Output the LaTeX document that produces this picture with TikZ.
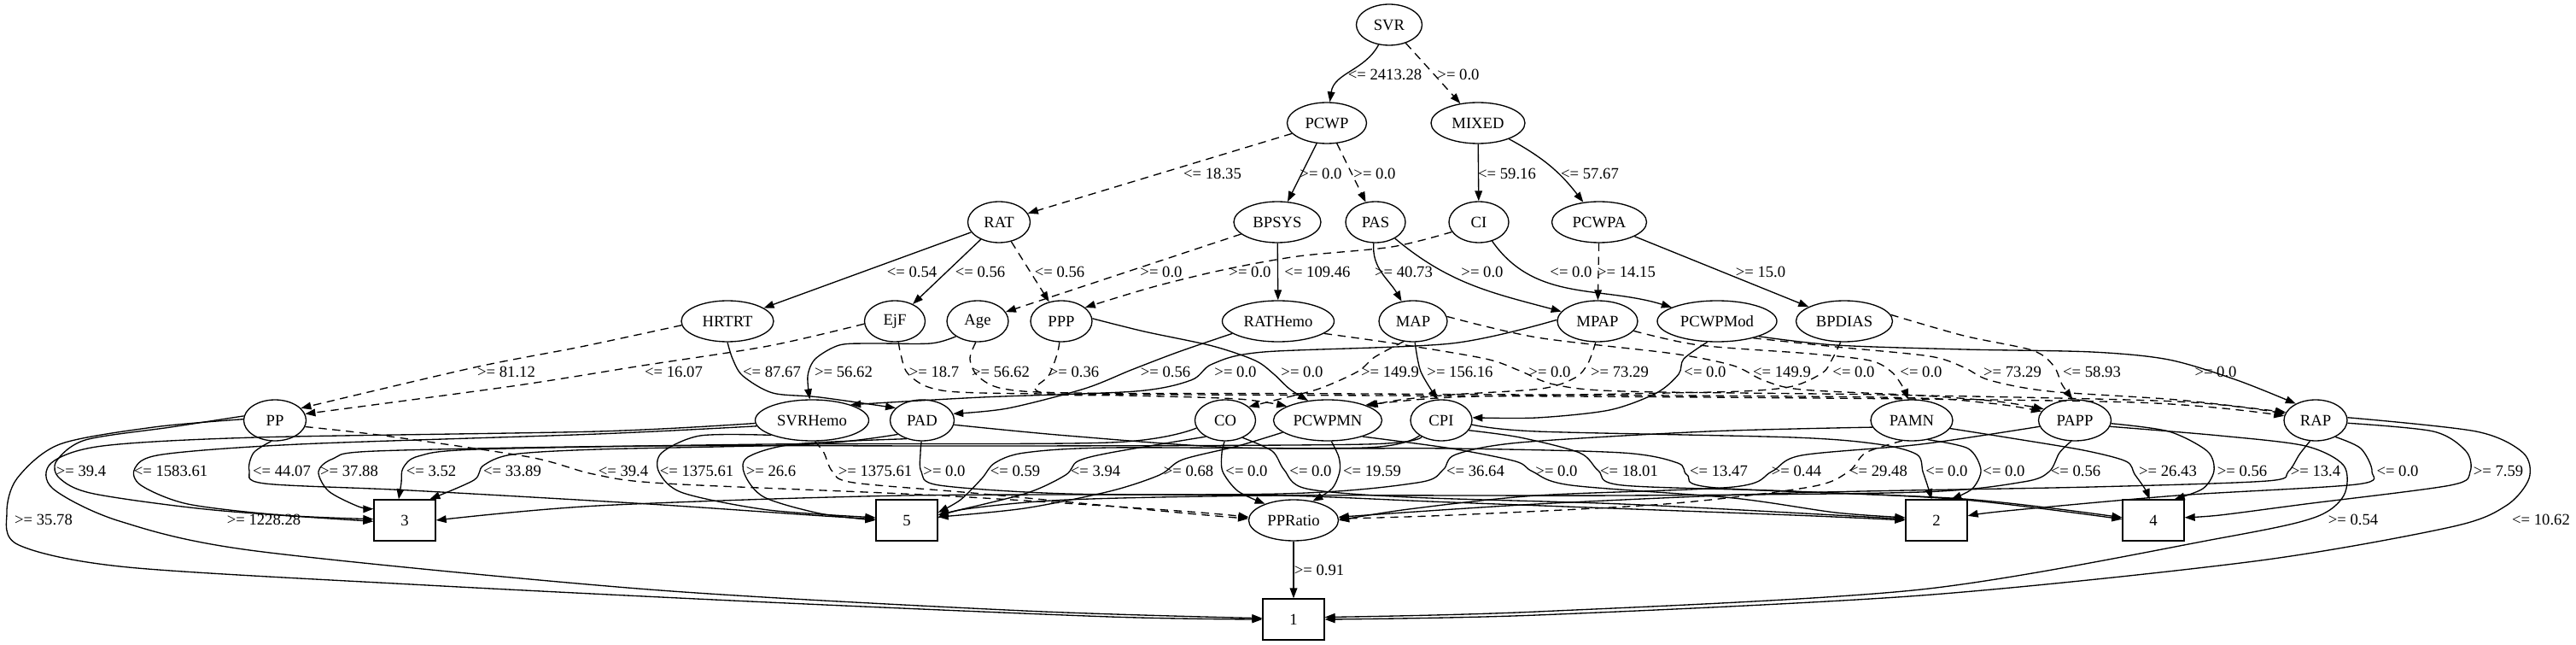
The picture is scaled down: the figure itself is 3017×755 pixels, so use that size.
\documentclass[tikz,border=0pt]{standalone}
\usepackage{fontspec}
\setmainfont{Liberation Serif}
\usetikzlibrary{shapes.geometric,arrows.meta}
\begin{document}
\begin{tikzpicture}[x=0.75pt,y=-0.75pt,
  every node/.style={font=\fontsize{14}{16}\selectfont},
  ell/.style={draw, ellipse, line width=1pt, minimum height=36pt, inner sep=0pt, minimum width=#1*0.75pt},
  leaf/.style={draw, rectangle, line width=1pt, minimum width=54pt, minimum height=36pt, inner sep=0pt},
  e/.style={line width=1pt, -{Triangle[length=9pt,width=6.5pt]}},
  d/.style={e, dash pattern=on 7pt off 5pt},
  lab/.style={inner sep=0pt}]
\useasboundingbox (0,0) rectangle (3017,755);
% ---------- nodes ----------
\node[ell=77] (SVR) at (1627,29) {SVR};
\node[ell=93] (PCWP) at (1554,144) {PCWP};
\node[ell=110] (MIXED) at (1731,144) {MIXED};
\node[ell=73] (RAT) at (1170,260) {RAT};
\node[ell=102] (BPSYS) at (1496,260) {BPSYS};
\node[ell=70] (PAS) at (1611,260) {PAS};
\node[ell=70] (CI) at (1732,260) {CI};
\node[ell=111] (PCWPA) at (1873,260) {PCWPA};
\node[ell=108] (HRTRT) at (852,376) {HRTRT};
\node[ell=71] (EjF) at (1048,376) {EjF};
\node[ell=72] (Age) at (1145,376) {Age};
\node[ell=72] (PPP) at (1243,376) {PPP};
\node[ell=131] (RATHemo) at (1497,376) {RATHemo};
\node[ell=80] (MAP) at (1655,376) {MAP};
\node[ell=94] (MPAP) at (1871,376) {MPAP};
\node[ell=140] (PCWPMod) at (2011,376) {PCWPMod};
\node[ell=113] (BPDIAS) at (2160,376) {BPDIAS};
\node[ell=73] (PP) at (322,492) {PP};
\node[ell=133] (SVRHemo) at (951,492) {SVRHemo};
\node[ell=75] (PAD) at (1080,492) {PAD};
\node[ell=71] (CO) at (1435,492) {CO};
\node[ell=127] (PCWPMN) at (1555,492) {PCWPMN};
\node[ell=72] (CPI) at (1688,492) {CPI};
\node[ell=96] (PAMN) at (2239,492) {PAMN};
\node[ell=85] (PAPP) at (2430,492) {PAPP};
\node[ell=74] (RAP) at (2712,492) {RAP};
\node[leaf] (b3) at (474,609) {3};
\node[leaf] (b5) at (1062,609) {5};
\node[ell=105] (PPRatio) at (1515,609) {PPRatio};
\node[leaf] (b2) at (2268,609) {2};
\node[leaf] (b4) at (2522,609) {4};
\node[leaf] (b1) at (1515,725) {1};
% ---------- layer 1-2 ----------
\draw[e] (SVR) to[out=-118,in=82] (PCWP);
\draw[d] (SVR) -- (MIXED);
\node[lab] (t1) at (1622,87) {<= 2413.28};
\node[lab] (t2) at (1708,87) {>= 0.0};
% ---------- layer 2-3 ----------
\draw[d] (PCWP) -- (RAT);
\draw[e] (PCWP) -- (BPSYS);
\draw[d] (PCWP) -- (PAS);
\draw[e] (MIXED) -- (CI);
\draw[e] (MIXED) to[bend left=12] (PCWPA);
\node[lab] (t3) at (1420,203) {<= 18.35};
\node[lab] (t4) at (1547,203) {>= 0.0};
\node[lab] (t5) at (1610,203) {>= 0.0};
\node[lab] (t6) at (1765,203) {<= 59.16};
\node[lab] (t7) at (1862,203) {<= 57.67};
% ---------- layer 3-4 ----------
\draw[e] (RAT) -- (HRTRT);
\draw[e] (RAT) -- (EjF);
\draw[d] (RAT) -- (PPP);
\draw[d] (BPSYS) -- (Age);
\draw[d] plot[smooth] coordinates {(CI.200) (1630,289) (1520,300) (1432,316) (1350,336) (PPP.30)};
\draw[e] (BPSYS) -- (RATHemo);
\draw[e] (PAS) to[out=-95,in=120] (MAP);
\draw[e] (PAS) to[out=-40,in=165] (MPAP);
\draw[e] (CI) to[out=-55,in=163] (PCWPMod);
\draw[d] (PCWPA) -- (MPAP);
\draw[e] (PCWPA) -- (BPDIAS);
\node[lab] (t8) at (1068,318) {<= 0.54};
\node[lab] (t9) at (1148,318) {<= 0.56};
\node[lab] (t10) at (1241,318) {<= 0.56};
\node[lab] (t11) at (1360,318) {>= 0.0};
\node[lab] (t12) at (1464,318) {>= 0.0};
\node[lab] (t13) at (1543,318) {<= 109.46};
\node[lab] (t14) at (1644,318) {>= 40.73};
\node[lab] (t15) at (1736,318) {>= 0.0};
\node[lab] (t16) at (1840,318) {<= 0.0};
\node[lab] (t17) at (1905,318) {>= 14.15};
\node[lab] (t18) at (2062,318) {>= 15.0};
% ---------- layer 4-5 ----------
\draw[d] plot[smooth] coordinates {(HRTRT.185) (680,406) (556,430) (PP.25)};
\draw[d] plot[smooth] coordinates {(EjF.185) (900,405) (752,428) (600,452) (PP.12)};
\draw[e] plot[smooth] coordinates {(HRTRT.-90) (858,420) (870,440) (905,460) (960,465) (PAD.155)};
\draw[e] plot[smooth] coordinates {(Age.215) (1090,402) (1020,402) (983,404) (955,420) (946,440) (SVRHemo.96)};
\draw[d] plot[smooth] coordinates {(EjF.-80) (1055,415) (1063,437) (1090,454) (1150,460) (1400,462) (2000,465) (2500,471) (RAP.172)};
\draw[d] plot[smooth] coordinates {(Age.-95) (1136,420) (1145,440) (1175,455) (1260,460) (1600,461) (2200,465) (2330,472) (PAPP.165)};
\draw[d] plot[smooth] coordinates {(PPP.-95) (1238,415) (1228,440) (1212,455) (1235,462) (1320,463) (1450,467) (PCWPMN.161)};
\draw[e] plot[smooth] coordinates {(RATHemo.-165) (1380,412) (1325,433) (1270,455) (1180,478) (PAD.12)};
\draw[e] plot[smooth] coordinates {(MPAP.178) (1700,402) (1480,412) (1420,426) (1395,445) (1330,458) (1150,465) (SVRHemo.22)};
\draw[e] plot[smooth] coordinates {(PPP.5) (1340,388) (1420,405) (1470,422) (1492,438) (1510,455) (PCWPMN.135)};
\draw[d] plot[smooth] coordinates {(MAP.-115) (1610,418) (1590,435) (1545,455) (1495,468) (CO.30)};
\draw[e] plot[smooth] coordinates {(MAP.-85) (1664,435) (CPI.100)};
\draw[d] plot[smooth] coordinates {(RATHemo.-15) (1640,403) (1740,420) (1780,434) (1820,450) (1900,458) (2200,462) (2550,470) (RAP.168)};
\draw[d] plot[smooth] coordinates {(MPAP.-95) (1860,425) (1845,442) (1805,455) (1700,462) (1640,468) (PCWPMN.20)};
\draw[e] plot[smooth] coordinates {(PCWPMod.-115) (1972,420) (1966,438) (1940,460) (1885,480) (1800,489) (CPI.5)};
\draw[d] plot[smooth] coordinates {(MAP.8) (1800,395) (1960,414) (2030,428) (2065,445) (2110,456) (2250,463) (2340,470) (PAPP.160)};
\draw[d] plot[smooth] coordinates {(BPDIAS.-100) (2146,420) (2135,436) (2100,452) (2040,458) (1900,461) (1700,465) (PCWPMN.22)};
\draw[d] plot[smooth] coordinates {(MPAP.-15) (1990,404) (2120,414) (2190,422) (2215,435) (2228,452) (PAMN.100)};
\draw[d] plot[smooth] coordinates {(PCWPMod.-25) (2150,406) (2260,417) (2300,430) (2330,445) (2400,458) (2550,468) (RAP.165)};
\draw[d] plot[smooth] coordinates {(BPDIAS.8) (2300,393) (2380,410) (2405,428) (2415,450) (PAPP.96)};
\draw[e] plot[smooth] coordinates {(PCWPMod.-20) (2150,404) (2300,409) (2450,412) (2540,421) (2620,445) (RAP.140)};
\node[lab] (t19) at (593,435) {>= 81.12};
\node[lab] (t20) at (789,435) {<= 16.07};
\node[lab] (t21) at (904,435) {<= 87.67};
\node[lab] (t22) at (988,435) {>= 56.62};
\node[lab] (t23) at (1094,435) {>= 18.7};
\node[lab] (t24) at (1172,435) {>= 56.62};
\node[lab] (t25) at (1258,435) {>= 0.36};
\node[lab] (t26) at (1365,435) {>= 0.56};
\node[lab] (t27) at (1447,435) {>= 0.0};
\node[lab] (t28) at (1525,435) {>= 0.0};
\node[lab] (t29) at (1628,435) {>= 149.9};
\node[lab] (t30) at (1710,435) {>= 156.16};
\node[lab] (t31) at (1815,435) {>= 0.0};
\node[lab] (t32) at (1897,435) {>= 73.29};
\node[lab] (t33) at (1997,435) {<= 0.0};
\node[lab] (t34) at (2087,435) {<= 149.9};
\node[lab] (t35) at (2171,435) {<= 0.0};
\node[lab] (t36) at (2250,435) {<= 0.0};
\node[lab] (t37) at (2357,435) {>= 73.29};
\node[lab] (t38) at (2450,435) {<= 58.93};
\node[lab] (t39) at (2595,435) {>= 0.0};
% ---------- layer 5-6 ----------
% PP
\draw[e] plot[smooth] coordinates {(PP.172) (200,500) (100,515) (66,540) (70,560) (110,578) (250,597) (b3.182)};
\draw[e] plot[smooth] coordinates {(PP.178) (180,500) (70,520) (20,560) (8,600) (22,638) (150,664) (500,685) (900,705) (1300,722) (b1.west)};
\draw[e] plot[smooth] coordinates {(PP.-100) (297,530) (292,551) (310,566) (480,574) (760,590) (950,603) (b5.178)};
\draw[d] plot[smooth] coordinates {(PP.-12) (450,510) (620,535) (695,555) (780,566) (1100,580) (1380,598) (PPRatio.176)};
% SVRHemo
\draw[e] plot[smooth] coordinates {(SVRHemo.186) (700,508) (350,520) (190,532) (158,548) (165,568) (220,590) (330,603) (b3.178)};
\draw[e] plot[smooth] coordinates {(SVRHemo.183) (700,505) (300,512) (120,522) (60,542) (62,572) (140,610) (300,645) (760,690) (1200,715) (b1.178)};
\draw[e] plot[smooth] coordinates {(SVRHemo.200) (820,510) (775,530) (772,553) (800,577) (900,597) (b5.175)};
\draw[d] plot[smooth] coordinates {(SVRHemo.-82) (965,530) (975,552) (1000,565) (1150,578) (1380,600) (PPRatio.178)};
% PAD
\draw[e] plot[smooth] coordinates {(PAD.-150) (950,520) (700,526) (600,532) (566,545) (555,562) (b3.40)};
\draw[e] plot[smooth] coordinates {(PAD.-130) (930,520) (876,535) (872,555) (895,582) (960,601) (b5.west)};
\draw[e] plot[smooth] coordinates {(PAD.-92) (1078,530) (1079,552) (1100,568) (1250,578) (1500,580) (1700,588) (2100,603) (b2.west)};
\draw[e] plot[smooth] coordinates {(PAD.-8) (1250,510) (1450,524) (1700,525) (1900,530) (1965,542) (1976,556) (2010,571) (2300,584) (b4.175)};
% CO
\draw[e] plot[smooth] coordinates {(CO.-165) (1300,518) (900,520) (560,526) (490,534) (472,548) (470,565) (b3.106)};
\draw[e] plot[smooth] coordinates {(CO.-140) (1300,530) (1262,540) (1248,556) (1200,578) (b5.10)};
\draw[e] plot[smooth] coordinates {(CO.-92) (1431,530) (1432,552) (1450,575) (PPRatio.150)};
\draw[e] plot[smooth] coordinates {(CO.-45) (1490,528) (1504,550) (1530,572) (1650,582) (1900,590) (2150,603) (b2.178)};
% CPI
\draw[e] plot[smooth] coordinates {(CPI.-140) (1600,520) (1200,522) (760,522) (440,528) (390,537) (373,552) (385,575) (420,593) (b3.160)};
\draw[e] plot[smooth] coordinates {(CPI.-145) (1600,524) (1300,524) (1200,530) (1165,542) (1150,560) (1125,585) (b5.14)};
\draw[e] plot[smooth] coordinates {(CPI.-20) (1780,512) (1850,530) (1872,551) (1900,568) (2100,575) (2300,585) (b4.178)};
\draw[e] plot[smooth] coordinates {(CPI.-8) (1800,505) (2100,512) (2200,520) (2245,532) (2252,552) (2258,570) (b2.103)};
% PCWPMN
\draw[e] plot[smooth] coordinates {(PCWPMN.-165) (1450,522) (1385,538) (1358,556) (1300,575) (1200,595) (b5.6)};
\draw[e] plot[smooth] coordinates {(PCWPMN.-80) (1568,535) (1569,552) (1560,572) (PPRatio.45)};
\draw[e] plot[smooth] coordinates {(PCWPMN.-25) (1700,525) (1775,540) (1795,552) (1840,568) (2030,583) (2150,600) (b2.175)};
% PAMN
\draw[e] plot[smooth] coordinates {(PAMN.190) (2000,505) (1780,518) (1705,532) (1690,550) (1660,565) (1500,578) (1060,580) (700,592) (b3.east)};
\draw[d] plot[smooth] coordinates {(PAMN.-115) (2185,530) (2165,552) (2120,570) (1950,590) (1700,603) (PPRatio.2)};
\draw[e] plot[smooth] coordinates {(PAMN.-50) (2305,525) (2320,550) (2310,572) (b2.55)};
\draw[e] plot[smooth] coordinates {(PAMN.-12) (2350,512) (2440,527) (2490,540) (2500,555) (2512,572) (b4.100)};
% PAPP
\draw[e] plot[smooth] coordinates {(PAPP.190) (2250,520) (2110,533) (2075,552) (2030,570) (1800,580) (1650,596) (PPRatio.east)};
\draw[e] plot[smooth] coordinates {(PAPP.-100) (2412,530) (2400,552) (2370,564) (2250,576) (1900,580) (1500,580) (1250,585) (1130,596) (b5.4)};
\draw[e] plot[smooth] coordinates {(PAPP.-5) (2540,505) (2585,528) (2593,551) (2580,572) (b4.45)};
\draw[e] plot[smooth] coordinates {(PAPP.-10) (2600,510) (2700,522) (2745,545) (2745,580) (2710,606) (2600,630) (2250,690) (1800,716) (b1.4)};
% RAP
\draw[e] plot[smooth] coordinates {(RAP.-105) (2693,532) (2680,552) (2655,563) (2450,570) (2100,577) (1800,590) (PPRatio.4)};
\draw[e] plot[smooth] coordinates {(RAP.-40) (2765,525) (2778,552) (2760,567) (2550,580) (2350,598) (b2.8)};
\draw[e] plot[smooth] coordinates {(RAP.-5) (2850,505) (2888,528) (2893,552) (2870,568) (2700,590) (2600,603) (b4.5)};
\draw[e] plot[smooth] coordinates {(RAP.5) (2900,505) (2955,530) (2962,560) (2935,592) (2870,617) (2640,657) (2250,697) (1800,720) (b1.0)};
% PPRatio
\draw[e] (PPRatio) -- (b1);
% labels layer 5-6
\node[lab] (u1) at (95,551) {>= 39.4};
\node[lab] (u2) at (200,551) {<= 1583.61};
\node[lab] (u3) at (330,551) {<= 44.07};
\node[lab] (u4) at (409,551) {>= 37.88};
\node[lab] (u5) at (505,551) {<= 3.52};
\node[lab] (u6) at (600,551) {<= 33.89};
\node[lab] (u7) at (730,551) {<= 39.4};
\node[lab] (u8) at (816,551) {<= 1375.61};
\node[lab] (u9) at (903,551) {>= 26.6};
\node[lab] (u10) at (1025,551) {>= 1375.61};
\node[lab] (u11) at (1106,551) {>= 0.0};
\node[lab] (u12) at (1189,551) {<= 0.59};
\node[lab] (u13) at (1283,551) {<= 3.94};
\node[lab] (u14) at (1392,551) {>= 0.68};
\node[lab] (u15) at (1460,551) {<= 0.0};
\node[lab] (u16) at (1535,551) {<= 0.0};
\node[lab] (u17) at (1607,551) {<= 19.59};
\node[lab] (u18) at (1728,551) {<= 36.64};
\node[lab] (u19) at (1823,551) {>= 0.0};
\node[lab] (u20) at (1908,551) {<= 18.01};
\node[lab] (u21) at (2013,551) {<= 13.47};
\node[lab] (u22) at (2104,551) {>= 0.44};
\node[lab] (u23) at (2200,551) {<= 29.48};
\node[lab] (u24) at (2280,551) {<= 0.0};
\node[lab] (u25) at (2347,551) {<= 0.0};
\node[lab] (u26) at (2431,551) {<= 0.56};
\node[lab] (u27) at (2539,551) {>= 26.43};
\node[lab] (u28) at (2626,551) {>= 0.56};
\node[lab] (u29) at (2712,551) {>= 13.4};
\node[lab] (u30) at (2808,551) {<= 0.0};
\node[lab] (u31) at (2926,551) {>= 7.59};
\node[lab] (u32) at (51,608) {>= 35.78};
\node[lab] (u33) at (309,608) {>= 1228.28};
\node[lab] (u34) at (2756,608) {>= 0.54};
\node[lab] (u35) at (2976,608) {<= 10.62};
\node[lab] (u36) at (1545,667) {>= 0.91};
\end{tikzpicture}
\end{document}
